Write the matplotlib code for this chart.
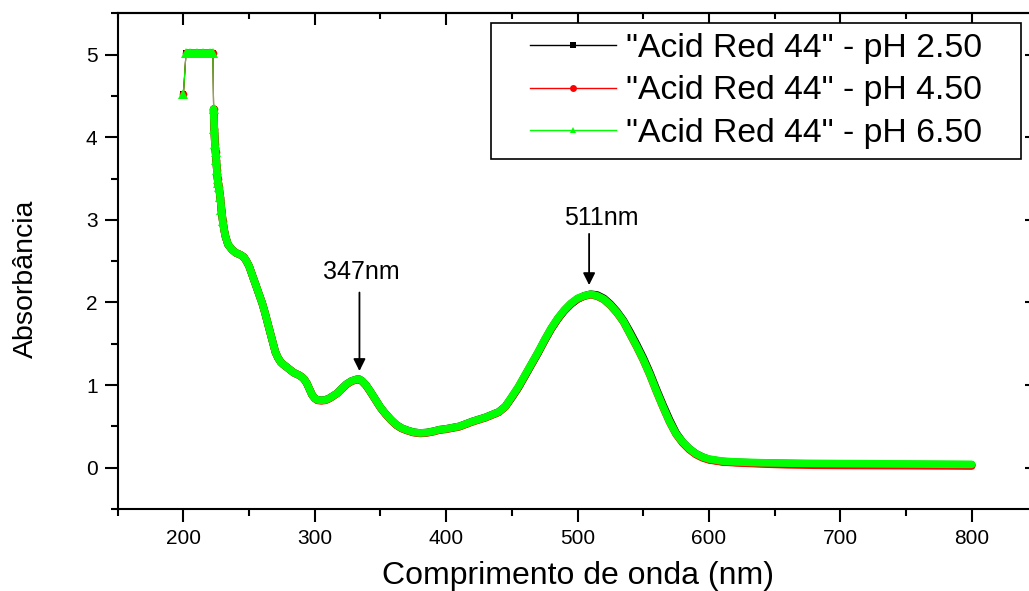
import matplotlib
matplotlib.use('Agg')
import matplotlib.pyplot as plt
from matplotlib.lines import Line2D
from matplotlib.patches import Rectangle
from matplotlib.ticker import MultipleLocator

plt.rcParams['font.family'] = ['Liberation Sans', 'DejaVu Sans']

# ---------------- data ----------------
wavelength = [200, 202, 205, 210, 215, 220, 222.5,
              223, 223.5, 224, 224.5, 225, 225.5, 226, 226.5, 227, 228, 229, 230,
              231, 232, 234, 237, 240, 243, 246, 248, 250, 252, 254, 256, 258,
              260, 262, 264, 266, 268, 270, 272, 274, 276, 280, 284, 288, 290,
              292, 294, 296, 298, 300, 302, 305, 308, 311, 314, 317, 320, 324,
              328, 332, 334, 336, 339, 342, 346, 350, 354, 358, 362, 366, 370,
              375, 380, 385, 390, 395, 400, 410, 420, 430, 440, 445, 450, 455,
              460, 465, 470, 475, 480, 485, 490, 495, 500, 505, 510, 515, 520,
              525, 530, 535, 540, 545, 550, 555, 560, 565, 570, 575, 580, 585,
              590, 595, 600, 610, 620, 640, 660, 680, 700, 750, 800]

abs_ph650 = [4.52, 5.02, 5.02, 5.02, 5.02, 5.02, 5.02,
             4.34, 4.10, 3.92, 3.82, 3.72, 3.60, 3.50, 3.44, 3.40, 3.28, 3.12, 2.98,
             2.88, 2.80, 2.70, 2.64, 2.60, 2.58, 2.55, 2.50, 2.44, 2.35, 2.26, 2.17, 2.08,
             1.99, 1.88, 1.76, 1.64, 1.52, 1.40, 1.33, 1.28, 1.25, 1.20, 1.15, 1.12, 1.10,
             1.07, 1.02, 0.95, 0.88, 0.84, 0.82, 0.815, 0.82, 0.84, 0.87, 0.90, 0.95, 1.01,
             1.05, 1.07, 1.07, 1.05, 1.00, 0.93, 0.83, 0.73, 0.65, 0.58, 0.52, 0.48, 0.455,
             0.43, 0.42, 0.425, 0.44, 0.46, 0.47, 0.50, 0.56, 0.61, 0.675, 0.74, 0.86, 0.98,
             1.12, 1.26, 1.40, 1.55, 1.69, 1.81, 1.91, 1.99, 2.05, 2.08, 2.10, 2.08, 2.04,
             1.97, 1.88, 1.77, 1.62, 1.47, 1.31, 1.13, 0.93, 0.74, 0.56, 0.41, 0.31, 0.23,
             0.17, 0.13, 0.105, 0.08, 0.07, 0.06, 0.055, 0.052, 0.05, 0.045, 0.04]

abs_ph450 = [4.52, 5.02, 5.02, 5.02, 5.02, 5.02, 5.02,
             4.34, 4.10, 3.92, 3.82, 3.72, 3.60, 3.50, 3.44, 3.40, 3.28, 3.12, 2.98,
             2.88, 2.80, 2.70, 2.64, 2.60, 2.58, 2.55, 2.50, 2.44, 2.35, 2.26, 2.17, 2.08,
             1.99, 1.88, 1.76, 1.64, 1.52, 1.40, 1.33, 1.28, 1.25, 1.20, 1.15, 1.12, 1.10,
             1.07, 1.02, 0.95, 0.88, 0.84, 0.815, 0.81, 0.815, 0.835, 0.865, 0.90, 0.945, 1.005,
             1.045, 1.065, 1.065, 1.045, 0.995, 0.925, 0.825, 0.725, 0.645, 0.575, 0.515, 0.475, 0.45,
             0.425, 0.415, 0.42, 0.435, 0.455, 0.465, 0.495, 0.555, 0.605, 0.67, 0.735, 0.855, 0.975,
             1.115, 1.255, 1.395, 1.545, 1.685, 1.805, 1.905, 1.985, 2.045, 2.075, 2.095, 2.075, 2.035,
             1.965, 1.875, 1.765, 1.615, 1.465, 1.305, 1.125, 0.925, 0.735, 0.555, 0.405, 0.30, 0.22,
             0.16, 0.12, 0.095, 0.07, 0.06, 0.045, 0.035, 0.03, 0.028, 0.025, 0.02]

abs_ph250 = [4.52, 5.02, 5.02, 5.02, 5.02, 5.02, 5.02,
             4.34, 4.10, 3.92, 3.82, 3.72, 3.60, 3.50, 3.44, 3.40, 3.28, 3.12, 2.98,
             2.88, 2.80, 2.70, 2.64, 2.60, 2.58, 2.55, 2.50, 2.44, 2.35, 2.26, 2.17, 2.08,
             1.99, 1.88, 1.76, 1.64, 1.52, 1.40, 1.33, 1.28, 1.25, 1.20, 1.15, 1.12, 1.10,
             1.07, 1.02, 0.95, 0.88, 0.84, 0.82, 0.815, 0.82, 0.84, 0.87, 0.90, 0.95, 1.01,
             1.05, 1.07, 1.07, 1.05, 1.00, 0.93, 0.83, 0.73, 0.65, 0.58, 0.52, 0.48, 0.455,
             0.43, 0.42, 0.425, 0.44, 0.46, 0.47, 0.50, 0.56, 0.61, 0.675, 0.74, 0.85, 0.97,
             1.11, 1.25, 1.39, 1.54, 1.68, 1.80, 1.90, 1.98, 2.04, 2.08, 2.10, 2.09, 2.05,
             1.98, 1.89, 1.78, 1.64, 1.49, 1.33, 1.15, 0.95, 0.76, 0.58, 0.42, 0.31, 0.23,
             0.17, 0.13, 0.10, 0.075, 0.065, 0.055, 0.05, 0.045, 0.04, 0.038, 0.035]

series_labels = ['"Acid Red 44" - pH 2.50',
                 '"Acid Red 44" - pH 4.50',
                 '"Acid Red 44" - pH 6.50']
series_colors = ['#000000', '#FF0000', '#00FF00']
series_markers = ['s', 'o', '^']
series_msize = [5, 5.5, 6.5]

x_major = [200, 300, 400, 500, 600, 700, 800]
y_major = [0, 1, 2, 3, 4, 5]
x_label = 'Comprimento de onda (nm)'
y_label = 'Absorbância'
peak_texts = ['347nm', '511nm']

# ---------------- figure ----------------
W, H = 1029, 591
fig = plt.figure(figsize=(W / 100, H / 100), dpi=100)
ax_left, ax_right, ax_top, ax_bot = 117.7, 1037.4, 13.3, 509.0
ax = fig.add_axes([ax_left / W, 1 - ax_bot / H, (ax_right - ax_left) / W, (ax_bot - ax_top) / H])
ax.set_xlim(150, 850)
ax.set_ylim(-0.5, 5.5)

n_flat_end = 7  # index where the steep part starts
early = [i for i, w in enumerate(wavelength) if w <= 230]

all_series = [abs_ph250, abs_ph450, abs_ph650]
for k, (ys, col, mk, ms) in enumerate(zip(all_series, series_colors, series_markers, series_msize)):
    z = 2 + k
    # the dense markers of the original form a thick band
    ax.plot(wavelength[1:n_flat_end], ys[1:n_flat_end], color=col, lw=5.5,
            solid_capstyle='butt', zorder=z)
    ax.plot(wavelength[n_flat_end:], ys[n_flat_end:], color=col, lw=5.5,
            solid_capstyle='round', solid_joinstyle='round', zorder=z)
    ax.plot(wavelength, ys, color=col, lw=0.8, marker=mk, ms=ms,
            markevery=early, markeredgewidth=0, zorder=z)

# ticks
for spine in ax.spines.values():
    spine.set_linewidth(1.5)
ax.xaxis.set_minor_locator(MultipleLocator(50))
ax.yaxis.set_minor_locator(MultipleLocator(0.5))
ax.set_xticks(x_major)
ax.set_yticks(y_major)
ax.tick_params(which='major', direction='out', length=9.5, width=1.5, labelsize=15, pad=5)
ax.tick_params(which='minor', direction='out', length=5, width=1.5)

secx = ax.secondary_xaxis('top')
secx.xaxis.set_major_locator(MultipleLocator(100))
secx.xaxis.set_minor_locator(MultipleLocator(50))
secx.tick_params(which='major', direction='in', length=8.5, width=1.5, labeltop=False)
secx.tick_params(which='minor', direction='in', length=4.5, width=1.5)
secx.spines['top'].set_linewidth(1.5)
secy = ax.secondary_yaxis('right')
secy.yaxis.set_major_locator(MultipleLocator(1))
secy.yaxis.set_minor_locator(MultipleLocator(0.5))
secy.tick_params(which='major', direction='in', length=8.5, width=1.5, labelright=False)
secy.tick_params(which='minor', direction='in', length=4.5, width=1.5)

ax.set_xlabel(x_label, fontsize=23)
ax.xaxis.set_label_coords(0.5, -0.105)
ax.set_ylabel(y_label, fontsize=20.5)
ax.yaxis.set_label_coords(-0.086, 0.465)

# annotations
ax.annotate('', xy=(334, 1.17), xytext=(334, 2.12),
            arrowprops=dict(arrowstyle='-|>', color='k', lw=1.3, mutation_scale=18,
                            shrinkA=0, shrinkB=0))
ax.text(335.3, 2.37, peak_texts[0], fontsize=18, ha='center', va='center')
ax.annotate('', xy=(508.8, 2.21), xytext=(508.8, 2.83),
            arrowprops=dict(arrowstyle='-|>', color='k', lw=1.3, mutation_scale=18,
                            shrinkA=0, shrinkB=0))
ax.text(517.7, 3.02, peak_texts[1], fontsize=18, ha='center', va='center')

# legend (figure legend so the frame rectangle can sit just below it)
handles = [Line2D([], [], color=c, lw=1.0, marker=m, ms=5, markeredgewidth=0)
           for c, m in zip(series_colors, series_markers)]
leg = fig.legend(handles, series_labels, loc='upper left',
                 bbox_to_anchor=(530 / W, 1 - 33 / H), bbox_transform=fig.transFigure,
                 frameon=False, fontsize=24.3, handlelength=2.55, handletextpad=0.3,
                 labelspacing=0.34, borderpad=0, borderaxespad=0)
leg.set_zorder(10)
fig.canvas.draw()
bb = leg.get_window_extent()
pad_x, pad_y = 39, 10
rect = Rectangle((bb.x0 - pad_x, bb.y0 - pad_y), bb.width + 2 * pad_x, bb.height + 2 * pad_y,
                 transform=None, fill=True, facecolor='white', edgecolor='black',
                 lw=1.2, zorder=9)
fig.patches.append(rect)

fig.savefig('out.png', dpi=100)
